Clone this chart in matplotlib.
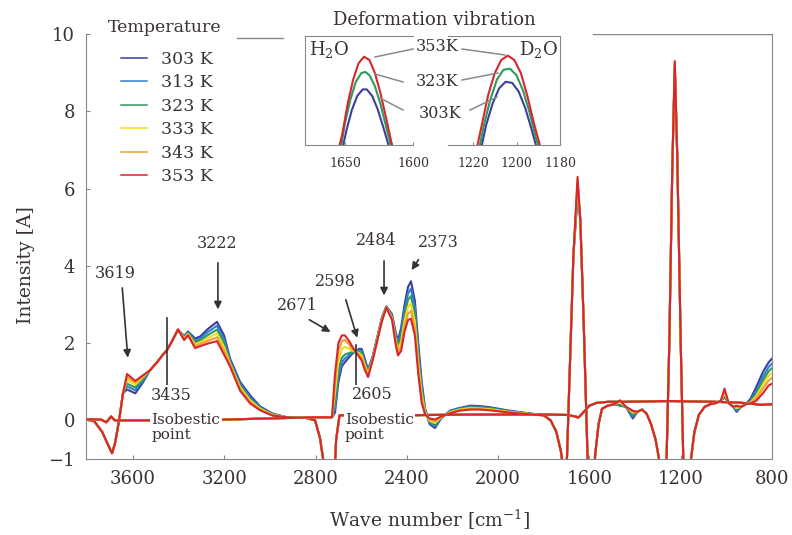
import matplotlib
matplotlib.use("Agg")
import matplotlib.pyplot as plt
from matplotlib.lines import Line2D

plt.rcParams['font.family'] = ['DejaVu Serif']
plt.rcParams['mathtext.fontset'] = 'dejavuserif'

# ---------- temperatures / colours ----------
temps = ['303 K', '313 K', '323 K', '333 K', '343 K', '353 K']
colors = ['#3b3f9e', '#2f7fd0', '#2e9a5a', '#f2dc1a', '#f0a030', '#d8262e']

# ---------- H2O family (OH stretch band) ----------
h2o_wn_left = [3806, 3770, 3735, 3712, 3692, 3679, 3661, 3644]
h2o_left = [0.02, -0.02, -0.30, -0.60, -0.85, -0.60, 0.00, 0.70]

h2o_wn_band = [3626, 3590, 3560, 3525, 3495, 3469, 3451, 3429, 3403, 3376, 3359,
               3328, 3306, 3271, 3232, 3201, 3175, 3131, 3087, 3043, 2987]
h2o_303 = [0.80, 0.70, 0.95, 1.30, 1.50, 1.70, 1.82, 2.05, 2.35, 2.18, 2.30,
           2.12, 2.17, 2.37, 2.55, 2.20, 1.60, 1.00, 0.65, 0.36, 0.17]
h2o_313 = [0.88, 0.78, 1.00, 1.30, 1.50, 1.70, 1.82, 2.05, 2.35, 2.16, 2.28,
           2.07, 2.12, 2.29, 2.45, 2.10, 1.55, 0.95, 0.60, 0.34, 0.16]
h2o_323 = [0.95, 0.85, 1.05, 1.30, 1.50, 1.70, 1.82, 2.05, 2.35, 2.14, 2.26,
           2.02, 2.07, 2.21, 2.35, 2.00, 1.50, 0.90, 0.55, 0.32, 0.15]
h2o_333 = [1.05, 0.92, 1.10, 1.30, 1.50, 1.70, 1.82, 2.05, 2.35, 2.12, 2.24,
           1.97, 2.02, 2.13, 2.25, 1.90, 1.47, 0.86, 0.52, 0.30, 0.14]
h2o_343 = [1.12, 0.98, 1.13, 1.30, 1.50, 1.70, 1.82, 2.05, 2.35, 2.10, 2.22,
           1.92, 1.97, 2.06, 2.15, 1.80, 1.43, 0.81, 0.48, 0.28, 0.13]
h2o_353 = [1.20, 1.02, 1.15, 1.30, 1.50, 1.70, 1.82, 2.05, 2.35, 2.08, 2.20,
           1.87, 1.92, 1.99, 2.05, 1.70, 1.40, 0.77, 0.44, 0.26, 0.12]

h2o_wn_right = [2925, 2838, 2802, 2781, 2767, 2750, 2725, 2710, 2695, 2600, 2400,
                2300, 2100, 1900, 1800, 1700, 1660, 1650, 1640, 1600, 1570, 1520,
                1450, 1350, 1250, 1150, 1050, 950, 900, 850, 800]
h2o_right = [0.08, 0.06, 0.00, -0.45, -1.00, -2.50, -2.50, -0.50, 0.13, 0.13, 0.13,
             0.14, 0.15, 0.15, 0.15, 0.14, 0.10, 0.07, 0.12, 0.38, 0.45, 0.48,
             0.48, 0.49, 0.50, 0.49, 0.48, 0.46, 0.44, 0.40, 0.42]

# ---------- D2O family (OD stretch band + deformation bands) ----------
d2o_wn_left = [3806, 3740, 3717, 3696, 3680, 3600, 3400, 3200, 3000, 2800, 2740]
d2o_left = [0.03, 0.02, -0.05, 0.10, 0.00, 0.00, 0.00, 0.02, 0.05, 0.08, 0.08]

d2o_wn_band = [2728, 2715, 2700, 2685, 2672, 2655, 2640, 2625, 2610, 2598, 2585,
               2570, 2550, 2530, 2510, 2490, 2465, 2450, 2439, 2425, 2410, 2395,
               2382, 2365, 2350, 2335, 2320, 2300, 2277, 2250, 2211, 2170, 2123,
               2080, 2036, 1950, 1850]
d2o_303 = [0.08, 0.20, 1.00, 1.40, 1.50, 1.62, 1.72, 1.78, 1.85, 1.85, 1.60,
           1.32, 1.65, 2.15, 2.65, 2.95, 2.75, 2.30, 2.06, 2.40, 3.00, 3.45,
           3.60, 3.10, 2.00, 1.00, 0.30, -0.10, -0.20, 0.05, 0.25, 0.32, 0.38,
           0.37, 0.34, 0.25, 0.17]
d2o_313 = [0.08, 0.30, 1.15, 1.50, 1.60, 1.68, 1.75, 1.78, 1.82, 1.80, 1.55,
           1.28, 1.63, 2.13, 2.63, 2.94, 2.72, 2.24, 1.98, 2.28, 2.86, 3.28,
           3.41, 2.92, 1.84, 0.89, 0.27, -0.07, -0.16, 0.06, 0.24, 0.31, 0.36,
           0.35, 0.32, 0.24, 0.17]
d2o_323 = [0.08, 0.45, 1.30, 1.62, 1.70, 1.74, 1.77, 1.78, 1.78, 1.74, 1.50,
           1.24, 1.61, 2.11, 2.61, 2.94, 2.69, 2.18, 1.91, 2.16, 2.72, 3.12,
           3.22, 2.74, 1.68, 0.78, 0.24, -0.04, -0.12, 0.07, 0.22, 0.29, 0.34,
           0.33, 0.31, 0.23, 0.16]
d2o_333 = [0.08, 0.70, 1.55, 1.85, 1.90, 1.86, 1.80, 1.78, 1.74, 1.68, 1.44,
           1.20, 1.59, 2.09, 2.59, 2.93, 2.66, 2.12, 1.83, 2.04, 2.58, 2.94,
           3.02, 2.56, 1.52, 0.67, 0.21, -0.01, -0.07, 0.08, 0.21, 0.28, 0.32,
           0.31, 0.29, 0.22, 0.16]
d2o_343 = [0.08, 0.95, 1.80, 2.05, 2.08, 1.98, 1.85, 1.78, 1.70, 1.62, 1.38,
           1.16, 1.57, 2.07, 2.57, 2.93, 2.63, 2.06, 1.76, 1.92, 2.44, 2.77,
           2.83, 2.38, 1.36, 0.56, 0.18, 0.02, -0.03, 0.09, 0.19, 0.26, 0.30,
           0.29, 0.27, 0.21, 0.15]
d2o_353 = [0.08, 1.20, 2.00, 2.20, 2.20, 2.07, 1.92, 1.78, 1.65, 1.55, 1.32,
           1.12, 1.55, 2.05, 2.55, 2.92, 2.60, 2.00, 1.68, 1.80, 2.30, 2.60,
           2.63, 2.20, 1.20, 0.45, 0.15, 0.05, 0.02, 0.10, 0.18, 0.25, 0.28,
           0.28, 0.26, 0.20, 0.15]

d2o_wn_right = [1800, 1770, 1745, 1725, 1716, 1705, 1690, 1670, 1652, 1640, 1625,
                1608, 1598, 1585, 1575, 1560, 1545, 1520, 1490, 1466, 1440, 1410,
                1390, 1370, 1350, 1330, 1310, 1295, 1280, 1268, 1250, 1237, 1226,
                1215, 1200, 1185, 1170, 1155, 1140, 1120, 1095, 1070, 1045, 1025,
                1008, 990, 970, 955, 935, 915, 895, 870, 840, 815, 800]
d2o_r303 = [0.13, 0.00, -0.30, -0.80, -1.20, -2.20, 0.60, 4.30, 5.80, 5.20, 2.50,
            -1.00, -2.50, -2.00, -0.90, -0.10, 0.30, 0.38, 0.42, 0.38, 0.35, 0.05,
            0.22, 0.28, 0.18, -0.10, -0.50, -1.00, -2.50, -2.50, 2.00, 6.50, 9.10,
            6.80, 2.00, -2.00, -2.50, -1.00, -0.30, 0.15, 0.35, 0.42, 0.45, 0.50,
            0.60, 0.45, 0.35, 0.22, 0.35, 0.42, 0.55, 0.85, 1.25, 1.50, 1.60]
d2o_r313 = [0.13, 0.00, -0.30, -0.80, -1.20, -2.20, 0.60, 4.30, 5.90, 5.20, 2.50,
            -1.00, -2.50, -2.00, -0.90, -0.10, 0.30, 0.38, 0.42, 0.40, 0.35, 0.10,
            0.22, 0.28, 0.18, -0.10, -0.50, -1.00, -2.50, -2.50, 2.00, 6.50, 9.15,
            6.80, 2.00, -2.00, -2.50, -1.00, -0.30, 0.15, 0.35, 0.42, 0.45, 0.50,
            0.62, 0.45, 0.35, 0.25, 0.35, 0.42, 0.50, 0.75, 1.12, 1.38, 1.47]
d2o_r323 = [0.13, 0.00, -0.30, -0.80, -1.20, -2.20, 0.60, 4.30, 6.00, 5.20, 2.50,
            -1.00, -2.50, -2.00, -0.90, -0.10, 0.30, 0.38, 0.42, 0.42, 0.35, 0.15,
            0.22, 0.28, 0.18, -0.10, -0.50, -1.00, -2.50, -2.50, 2.00, 6.50, 9.20,
            6.80, 2.00, -2.00, -2.50, -1.00, -0.30, 0.15, 0.35, 0.42, 0.45, 0.50,
            0.65, 0.45, 0.35, 0.30, 0.35, 0.42, 0.48, 0.68, 1.02, 1.27, 1.35]
d2o_r333 = [0.13, 0.00, -0.30, -0.80, -1.20, -2.20, 0.60, 4.30, 6.10, 5.20, 2.50,
            -1.00, -2.50, -2.00, -0.90, -0.10, 0.30, 0.38, 0.42, 0.46, 0.35, 0.20,
            0.22, 0.28, 0.18, -0.10, -0.50, -1.00, -2.50, -2.50, 2.00, 6.50, 9.22,
            6.80, 2.00, -2.00, -2.50, -1.00, -0.30, 0.15, 0.35, 0.42, 0.45, 0.50,
            0.70, 0.45, 0.35, 0.32, 0.35, 0.42, 0.46, 0.62, 0.92, 1.15, 1.23]
d2o_r343 = [0.13, 0.00, -0.30, -0.80, -1.20, -2.20, 0.60, 4.30, 6.20, 5.20, 2.50,
            -1.00, -2.50, -2.00, -0.90, -0.10, 0.30, 0.38, 0.42, 0.50, 0.35, 0.22,
            0.22, 0.28, 0.18, -0.10, -0.50, -1.00, -2.50, -2.50, 2.00, 6.50, 9.25,
            6.80, 2.00, -2.00, -2.50, -1.00, -0.30, 0.15, 0.35, 0.42, 0.45, 0.50,
            0.75, 0.45, 0.35, 0.35, 0.35, 0.42, 0.45, 0.56, 0.82, 1.03, 1.10]
d2o_r353 = [0.13, 0.00, -0.30, -0.80, -1.20, -2.20, 0.60, 4.30, 6.30, 5.20, 2.50,
            -1.00, -2.50, -2.00, -0.90, -0.10, 0.30, 0.38, 0.42, 0.52, 0.35, 0.25,
            0.22, 0.28, 0.18, -0.10, -0.50, -1.00, -2.50, -2.50, 2.00, 6.50, 9.30,
            6.80, 2.00, -2.00, -2.50, -1.00, -0.30, 0.15, 0.35, 0.42, 0.45, 0.50,
            0.82, 0.45, 0.35, 0.38, 0.35, 0.42, 0.44, 0.50, 0.70, 0.90, 0.95]

# ---------- inset (deformation vibration, 303/323/353 K) ----------
ins_h_wn_303 = [1653, 1649, 1645, 1641, 1637, 1634, 1630, 1626, 1622, 1618, 1615]
ins_h_303 = [-0.10, 0.13, 0.32, 0.45, 0.51, 0.51, 0.45, 0.33, 0.17, 0.00, -0.10]
ins_h_wn_323 = [1654, 1650, 1646, 1642, 1638, 1635, 1632, 1628, 1624, 1620, 1616, 1613]
ins_h_323 = [-0.10, 0.20, 0.42, 0.58, 0.66, 0.67, 0.64, 0.54, 0.38, 0.18, -0.02, -0.12]
ins_h_wn_353 = [1656, 1652, 1648, 1644, 1640, 1636, 1632, 1628, 1624, 1620, 1616, 1613]
ins_h_353 = [-0.10, 0.10, 0.38, 0.60, 0.75, 0.81, 0.78, 0.66, 0.48, 0.26, 0.03, -0.10]

ins_d_wn_303 = [1217, 1214, 1211, 1208, 1205, 1202, 1199, 1196, 1193, 1190]
ins_d_303 = [-0.10, 0.18, 0.38, 0.52, 0.58, 0.57, 0.49, 0.34, 0.14, -0.08]
ins_d_wn_323 = [1218, 1215, 1212, 1209, 1206, 1203, 1200, 1197, 1194, 1191, 1188]
ins_d_323 = [-0.12, 0.18, 0.42, 0.60, 0.69, 0.70, 0.64, 0.50, 0.30, 0.06, -0.14]
ins_d_wn_353 = [1219, 1216, 1213, 1210, 1207, 1204, 1201, 1198, 1195, 1192, 1189, 1187]
ins_d_353 = [-0.10, 0.18, 0.46, 0.66, 0.78, 0.82, 0.78, 0.66, 0.45, 0.20, -0.02, -0.12]

txt = '#3a3232'
W, H = 792, 535


def fx(px):
    return px / W


def fy(py):
    return 1 - py / H


fig = plt.figure(figsize=(7.92, 5.35), dpi=100)
ax = fig.add_axes([fx(86), fy(459), 686 / W, 425 / H])

h2o_bands = [h2o_303, h2o_313, h2o_323, h2o_333, h2o_343, h2o_353]
d2o_bands = [d2o_303, d2o_313, d2o_323, d2o_333, d2o_343, d2o_353]
d2o_rights = [d2o_r303, d2o_r313, d2o_r323, d2o_r333, d2o_r343, d2o_r353]

handles = []
for i, c in enumerate(colors):
    ax.plot(h2o_wn_left + h2o_wn_band + h2o_wn_right,
            h2o_left + h2o_bands[i] + h2o_right, color=c, lw=1.5)
for i, c in enumerate(colors):
    ln, = ax.plot(d2o_wn_left + d2o_wn_band + d2o_wn_right,
                  d2o_left + d2o_bands[i] + d2o_rights[i], color=c, lw=1.5,
                  label=temps[i])
    handles.append(ln)

ax.set_xlim(3806, 800)
ax.set_ylim(-1, 10)
ax.set_xticks([3600, 3200, 2800, 2400, 2000, 1600, 1200, 800])
ax.set_yticks([-1, 0, 2, 4, 6, 8, 10])
ax.tick_params(direction='in', length=3, labelsize=13, colors='#888888',
               labelcolor=txt, pad=8)
for s in ax.spines.values():
    s.set_color('#888888')
ax.spines['top'].set_visible(False)
ax.add_line(Line2D([fx(237), fx(283)], [fy(38), fy(38)], transform=fig.transFigure,
                   color='#888888', lw=1))
ax.add_line(Line2D([fx(593), fx(772)], [fy(34), fy(34)], transform=fig.transFigure,
                   color='#888888', lw=1))

ax.set_xlabel('Wave number [cm$^{-1}$]', fontsize=13.5, color=txt)
ax.set_ylabel('Intensity [A]', fontsize=13.5, color=txt)
ax.xaxis.label.set_va('center')
ax.yaxis.label.set_va('center')
ax.xaxis.set_label_coords((430 - 86) / 686, (459 - 520) / 425)
ax.yaxis.set_label_coords((26 - 86) / 686, (459 - 265) / 425)

# ---------- peak annotations ----------
afs = 11.5
ap = dict(arrowstyle='-|>', color='#333333', lw=1.2, mutation_scale=11)
ax.text(3679, 3.81, '3619', fontsize=afs, color=txt, ha='center', va='center')
ax.annotate('', xy=(3622, 1.55), xytext=(3648, 3.50), arrowprops=ap)
ax.text(3232, 4.59, '3222', fontsize=afs, color=txt, ha='center', va='center')
ax.annotate('', xy=(3228, 2.80), xytext=(3228, 4.15), arrowprops=ap)
ax.plot([3451, 3451], [0.85, 2.64], color='#333333', lw=1.2)
ax.text(2881, 2.98, '2671', fontsize=afs, color=txt, ha='center', va='center')
ax.annotate('', xy=(2724, 2.25), xytext=(2838, 2.64), arrowprops=ap)
ax.text(2715, 3.60, '2598', fontsize=afs, color=txt, ha='center', va='center')
ax.annotate('', xy=(2614, 2.07), xytext=(2671, 3.19), arrowprops=ap)
ax.plot([2623, 2623], [0.85, 1.94], color='#333333', lw=1.2)
ax.text(2535, 4.66, '2484', fontsize=afs, color=txt, ha='center', va='center')
ax.annotate('', xy=(2500, 3.16), xytext=(2500, 4.20), arrowprops=ap)
ax.text(2263, 4.61, '2373', fontsize=afs, color=txt, ha='center', va='center')
ax.annotate('', xy=(2386, 3.83), xytext=(2342, 4.22), arrowprops=ap)

wb = dict(facecolor='white', edgecolor='none', pad=1)
ax.text(3433, 0.65, '3435', fontsize=afs, color=txt, ha='center', va='center', bbox=wb, zorder=5)
ax.text(3520, -0.18, 'Isobestic\npoint', fontsize=11, color=txt, ha='left', va='center',
        linespacing=1.1, bbox=wb, zorder=5)
ax.text(2553, 0.67, '2605', fontsize=afs, color=txt, ha='center', va='center', bbox=wb, zorder=5)
ax.text(2671, -0.18, 'Isobestic\npoint', fontsize=11, color=txt, ha='left', va='center',
        linespacing=1.1, bbox=wb, zorder=5)

# ---------- legend ----------
fig.text(fx(165), fy(27), 'Temperature', fontsize=12.5, color=txt, ha='center', va='center')
leg = fig.legend(handles=handles, labels=temps, loc='upper left',
                 bbox_to_anchor=(fx(121), fy(51)), frameon=False, fontsize=12.5,
                 handlelength=1.5, handletextpad=0.8, labelspacing=0.37,
                 borderpad=0, borderaxespad=0)
for t in leg.get_texts():
    t.set_color(txt)
for h in leg.legend_handles:
    h.set_linewidth(1.1)

# ---------- inset ----------
axL = fig.add_axes([fx(305), fy(145), 108 / W, 109 / H])
axR = fig.add_axes([fx(448), fy(145), 112 / W, 109 / H])
axL.plot(ins_h_wn_303, ins_h_303, color=colors[0], lw=1.5)
axL.plot(ins_h_wn_323, ins_h_323, color=colors[2], lw=1.5)
axL.plot(ins_h_wn_353, ins_h_353, color=colors[5], lw=1.5)
axR.plot(ins_d_wn_303, ins_d_303, color=colors[0], lw=1.5)
axR.plot(ins_d_wn_323, ins_d_323, color=colors[2], lw=1.5)
axR.plot(ins_d_wn_353, ins_d_353, color=colors[5], lw=1.5)
axL.set_xlim(1679.4, 1600)
axR.set_xlim(1231.5, 1180)
axL.set_xticks([1650, 1600])
axR.set_xticks([1220, 1200, 1180])
for a in (axL, axR):
    a.set_ylim(0, 1)
    a.set_yticks([])
    a.tick_params(axis='x', direction='in', length=2, labelsize=9, pad=9,
                  colors='#888888', labelcolor=txt)
    for s in a.spines.values():
        s.set_color('#888888')
axL.spines['right'].set_visible(False)
axR.spines['left'].set_visible(False)

fig.text(fx(434), fy(20), 'Deformation vibration', fontsize=13, color=txt, ha='center', va='center')
fig.text(fx(309), fy(49), 'H$_2$O', fontsize=13, color=txt, ha='left', va='center')
fig.text(fx(558), fy(49), 'D$_2$O', fontsize=13, color=txt, ha='right', va='center')
fig.text(fx(437), fy(47), '353K', fontsize=11.5, color=txt, ha='center', va='center',
         bbox=dict(facecolor='white', edgecolor='none', pad=0.5))
fig.text(fx(437), fy(81), '323K', fontsize=11.5, color=txt, ha='center', va='center')
fig.text(fx(440), fy(113), '303K', fontsize=11.5, color=txt, ha='center', va='center')
leaders = [((413, 49), (375, 57)), ((462, 49), (505, 55)),
           ((403, 82), (375, 74)), ((462, 80), (498, 73)),
           ((403, 110), (380, 98)), ((470, 110), (497, 97))]
for (x0, y0), (x1, y1) in leaders:
    fig.add_artist(Line2D([fx(x0), fx(x1)], [fy(y0), fy(y1)], color='#8a8a8a', lw=1.1))

fig.savefig('out.png', dpi=100)
